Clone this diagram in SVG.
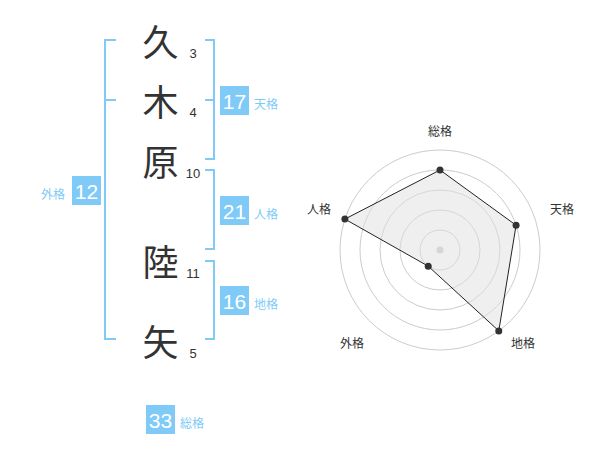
<svg xmlns="http://www.w3.org/2000/svg" width="600" height="470" viewBox="0 0 600 470">
<style>
.ch{font-family:"Noto Sans CJK JP","Noto Sans CJK SC",sans-serif;font-size:36px;fill:#333;text-anchor:middle;dominant-baseline:central}
.sn{font-family:"Liberation Sans",Arial,sans-serif;font-size:13px;fill:#333;text-anchor:middle}
.br{fill:none;stroke:#80caf8;stroke-width:2}
.box{fill:#80caf8}
.bn{font-family:"Liberation Sans",Arial,sans-serif;font-size:21px;fill:#fff;text-anchor:middle}
.lb{font-family:"Noto Sans CJK JP","Noto Sans CJK SC",sans-serif;font-size:12px;fill:#80caf8;dominant-baseline:central}
.rl{font-family:"Noto Sans CJK JP","Noto Sans CJK SC",sans-serif;font-size:12px;fill:#333;text-anchor:middle;dominant-baseline:central}
.ring{fill:none;stroke:#ccc;stroke-width:1}
.pt{fill:#333}
</style>
<rect width="600" height="470" fill="#fff"/>
<g id="name">
<g id="c1"><text class="ch" x="160.5" y="40">久</text><text class="sn" x="193" y="57.5">3</text></g>
<g id="c2"><text class="ch" x="160.5" y="100">木</text><text class="sn" x="193" y="117">4</text></g>
<g id="c3"><text class="ch" x="160.5" y="160">原</text><text class="sn" x="193" y="177.5">10</text></g>
<g id="c4"><text class="ch" x="160.5" y="260">陸</text><text class="sn" x="193" y="277.5">11</text></g>
<g id="c5"><text class="ch" x="160.5" y="340">矢</text><text class="sn" x="193" y="357.5">5</text></g>
</g>
<g id="connectors">
<path class="br" d="M116,40 H105 V339 H116 M105,100 H116"/>
<path class="br" d="M205,40 H214 V159 H205 M214,100 H205"/>
<path class="br" d="M205,170 H214 V249 H205"/>
<path class="br" d="M205,261 H214 V339 H205"/>
</g>
<g id="tenkaku"><rect class="box" x="220" y="86" width="29" height="29"/><text class="bn" x="234.5" y="108.5">17</text><text class="lb" x="254" y="103">天格</text></g>
<g id="jinkaku"><rect class="box" x="220" y="196" width="29" height="29"/><text class="bn" x="234.5" y="218.5">21</text><text class="lb" x="254" y="213">人格</text></g>
<g id="chikaku"><rect class="box" x="220" y="286" width="29" height="29"/><text class="bn" x="234.5" y="308.5">16</text><text class="lb" x="254" y="303">地格</text></g>
<g id="gaikaku"><rect class="box" x="72" y="176" width="29" height="29"/><text class="bn" x="86.5" y="198.5">12</text><text class="lb" x="41" y="193">外格</text></g>
<g id="soukaku"><rect class="box" x="146" y="405" width="29" height="29"/><text class="bn" x="160.5" y="427.5">33</text><text class="lb" x="180" y="422">総格</text></g>
<g id="radar">
<circle class="ring" cx="440" cy="250" r="20"/>
<circle class="ring" cx="440" cy="250" r="40"/>
<circle class="ring" cx="440" cy="250" r="60"/>
<circle class="ring" cx="440" cy="250" r="80"/>
<circle class="ring" cx="440" cy="250" r="100"/>
<circle cx="440" cy="250" r="3.5" fill="#ccc"/>
<polygon points="440,170 516.08,225.28 498.78,330.9 428.24,266.18 344.89,219.1" fill="#e0e0e0" fill-opacity="0.5" stroke="#222" stroke-width="1"/>
<circle class="pt" cx="440" cy="170" r="3.5"/>
<circle class="pt" cx="516.08" cy="225.28" r="3.5"/>
<circle class="pt" cx="498.78" cy="330.9" r="3.5"/>
<circle class="pt" cx="428.24" cy="266.18" r="3.5"/>
<circle class="pt" cx="344.89" cy="219.1" r="3.5"/>
<text class="rl" x="440" y="130">総格</text>
<text class="rl" x="562" y="208">天格</text>
<text class="rl" x="523" y="342">地格</text>
<text class="rl" x="352" y="342">外格</text>
<text class="rl" x="319" y="208">人格</text>
</g>
</svg>
